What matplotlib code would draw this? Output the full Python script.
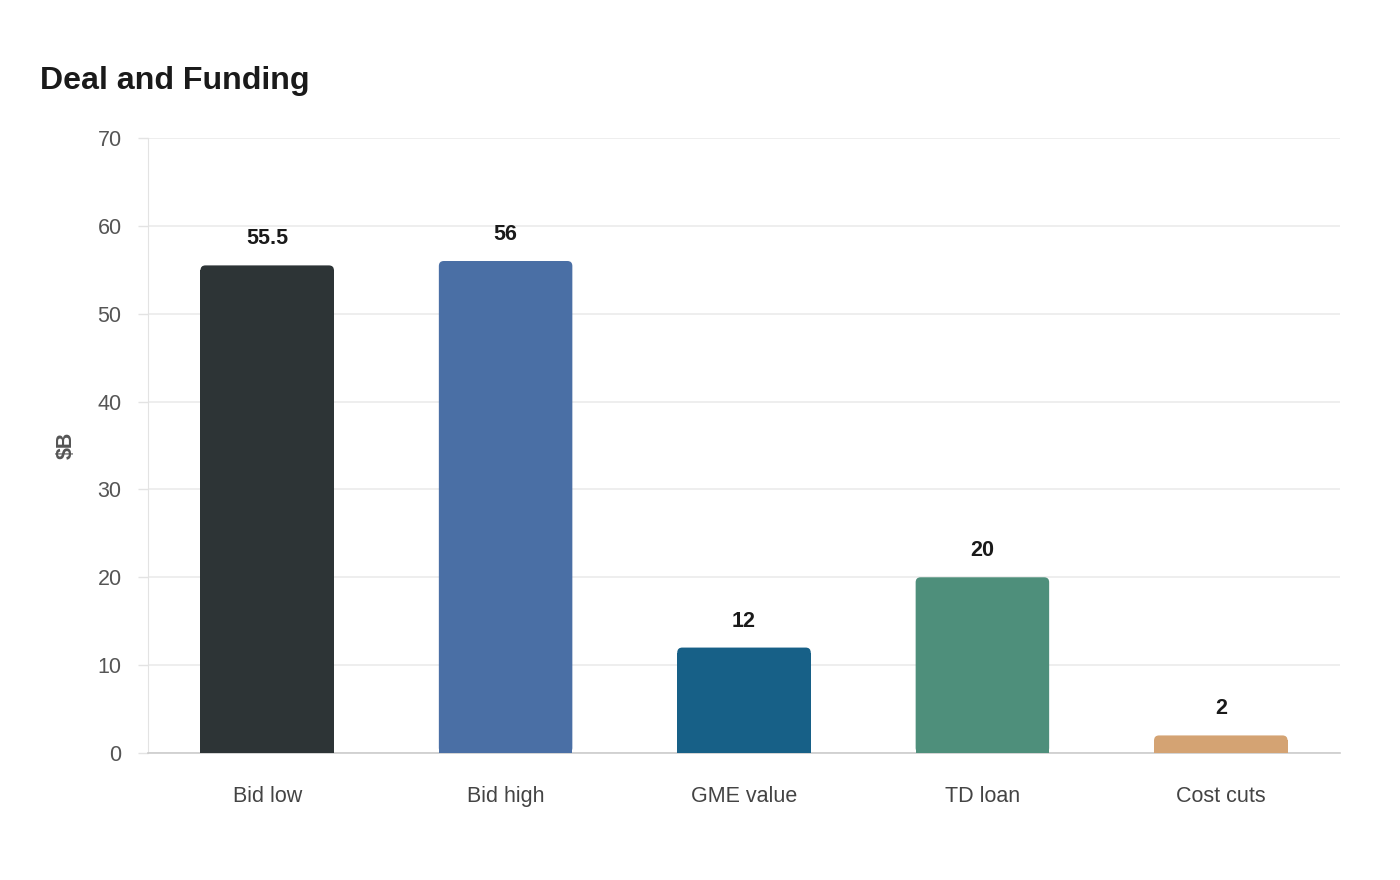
import numpy as np
import matplotlib.pyplot as plt
from matplotlib.patches import FancyBboxPatch, Rectangle

plt.rcParams['font.family'] = ['Liberation Sans', 'DejaVu Sans']

# data
categories = ['Bid low', 'Bid high', 'GME value', 'TD loan', 'Cost cuts']
values = [55.5, 56, 12, 20, 2]
labels = ['55.5', '56', '12', '20', '2']
colors = ['#2d3436', '#4a6fa5', '#176087', '#4e8f7b', '#d4a373']

fig = plt.figure(figsize=(14, 8.8), dpi=100)
ax = fig.add_axes([148 / 1400, 1 - 753 / 880, 1192 / 1400, 615 / 880])

x = np.arange(len(categories))
bw = 0.56
ax.set_xlim(-0.5, len(categories) - 0.5)
ax.set_ylim(0, 70)

# rounded top corners: radius in px converted to data units
px_x = 1192 / len(categories)
px_y = 615 / 70
r = 5
rx = r / px_x
ry = r / px_y
for xi, v, c, lab in zip(x, values, colors, labels):
    ax.add_patch(FancyBboxPatch((xi - bw / 2, 0), bw, v,
                                boxstyle=f"round,pad=0,rounding_size={rx}",
                                mutation_aspect=ry / rx,
                                facecolor=c, edgecolor='none', zorder=3))
    ax.add_patch(Rectangle((xi - bw / 2, 0), bw, min(v, max(v - ry, v / 2)),
                           facecolor=c, edgecolor='none', zorder=3))
    ax.annotate(lab, (xi, v), xytext=(0, 21),
                textcoords='offset pixels', ha='center', va='baseline',
                fontsize=15.5, fontweight='bold', color='#1a1a1a', zorder=4)

ax.set_xticks(x)
ax.set_xticklabels(categories)
ax.set_yticks(np.arange(0, 71, 10))
ax.grid(axis='y', color='#ebebeb', linewidth=1.2, zorder=0)
ax.set_axisbelow(True)

ax.tick_params(axis='x', length=0, pad=23.5, labelsize=15.5, labelcolor='#444444')
ax.tick_params(axis='y', length=7, width=1, color='#e3e3e3', pad=12,
               labelsize=15.5, labelcolor='#555555')

for s in ['top', 'right']:
    ax.spines[s].set_visible(False)
ax.spines['left'].set_color('#e3e3e3')
ax.spines['bottom'].set_color('#cccccc')
ax.spines['bottom'].set_linewidth(1.2)

ax.set_ylabel('$B', fontsize=15.5, fontweight='bold', color='#555555')
ax.yaxis.set_label_coords(-0.06, 0.5)

fig.text(40 / 1400, 1 - 81 / 880, 'Deal and Funding', ha='left', va='center',
         fontsize=23.1, fontweight='bold', color='#1a1a1a')

fig.savefig('out.png', dpi=100)
